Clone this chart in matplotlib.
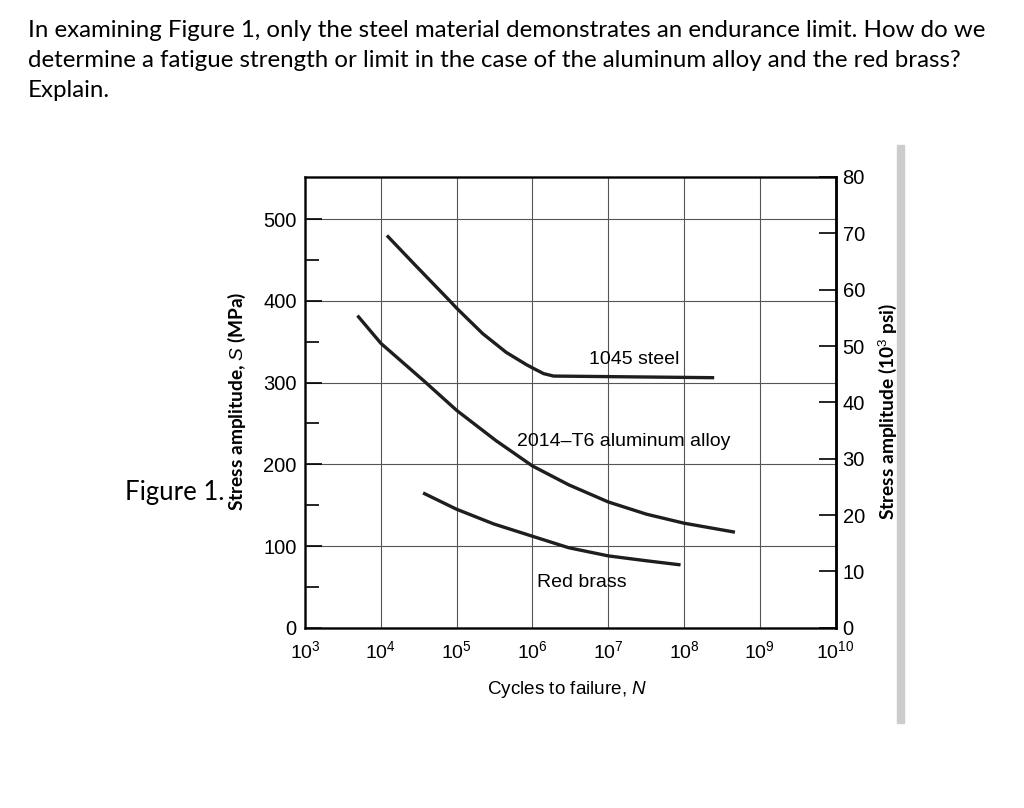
import numpy as np
import matplotlib
matplotlib.use('Agg')
from matplotlib import pyplot as plt
from matplotlib import patches

# cycles to failure and stress amplitude (MPa)
steel_N = [1.2e4, 2.75e4, 8.1e4, 1.0e5, 2.2e5, 4.5e5, 8.3e5, 1.0e6, 1.4e6, 1.9e6, 2.5e8]
steel_S = [480, 445, 400, 391, 360, 337, 322, 318, 311, 308, 306]
alu_N = [4.9e3, 1.0e4, 3.7e4, 1.0e5, 3.3e5, 1.0e6, 3.0e6, 1.0e7, 3.2e7, 1.0e8, 4.7e8]
alu_S = [382, 348, 302, 266, 229, 198, 175, 154, 139, 128, 117]
brass_N = [3.6e4, 1.0e5, 3.1e5, 1.0e6, 3.0e6, 1.0e7, 3.2e7, 9.0e7]
brass_S = [165, 145, 127, 112, 98, 88, 82, 77]

mpa_ticks = [0, 100, 200, 300, 400, 500]
mpa_minor = [50, 150, 250, 350, 450]
ksi_ticks = [0, 10, 20, 30, 40, 50, 60, 70, 80]
decades = [1e3, 1e4, 1e5, 1e6, 1e7, 1e8, 1e9, 1e10]
decade_labels = [r'$\mathregular{10^{%d}}$' % k for k in range(3, 11)]

question = ('In examining Figure 1, only the steel material demonstrates an endurance limit. How do we\n'
            'determine a fatigue strength or limit in the case of the aluminum alloy and the red brass?\n'
            'Explain.')

plt.rcParams['font.family'] = 'Liberation Sans'
plt.rcParams['mathtext.fontset'] = 'custom'
plt.rcParams['mathtext.rm'] = 'Liberation Sans'
plt.rcParams['mathtext.it'] = 'Liberation Sans:italic'

fig = plt.figure(figsize=(10.24, 8.08), dpi=100)
ax = fig.add_axes([0.298, 0.223, 0.518, 0.558])

ink = '#1e1e1e'
ax.plot(steel_N, steel_S, color=ink, lw=2.4, solid_capstyle='butt', solid_joinstyle='round')
ax.plot(alu_N, alu_S, color=ink, lw=2.4, solid_capstyle='butt', solid_joinstyle='round')
ax.plot(brass_N, brass_S, color=ink, lw=2.4, solid_capstyle='butt', solid_joinstyle='round')

ax.set_xscale('log')
ax.set_xlim(1e3, 1e10)
ax.set_ylim(0, 80 * 6.895)
ax.set_xticks(decades)
ax.set_xticklabels(decade_labels)
ax.xaxis.set_minor_locator(matplotlib.ticker.NullLocator())
ax.set_yticks(mpa_ticks)
ax.set_yticks(mpa_minor, minor=True)
ax.grid(True, which='major', color='#555555', lw=0.8)
ax.tick_params(axis='x', length=0, pad=9, labelsize=14)
ax.tick_params(axis='y', which='major', direction='in', length=12, width=1.2, pad=6, labelsize=14.5)
ax.tick_params(axis='y', which='minor', direction='in', length=10, width=1.2)
for s in ax.spines.values():
    s.set_linewidth(1.8)
    s.set_color(ink)

ax2 = ax.twinx()
ax2.set_ylim(0, 80)
ax2.set_yticks(ksi_ticks)
ax2.tick_params(axis='y', direction='in', length=12, width=1.2, pad=5, labelsize=14.5)
ax2.spines['right'].set_linewidth(1.8)

ax.text(2.2e7, 318, '1045 steel', fontsize=14, ha='center', va='bottom')
ax.text(1.6e7, 218, '2014\u2013T6 aluminum alloy', fontsize=14, ha='center', va='bottom')
ax.text(4.5e6, 45, 'Red brass', fontsize=14, ha='center', va='bottom')

ax.set_xlabel('Cycles to failure, $\\mathit{N}$', fontsize=13.6)
ax.xaxis.set_label_coords(0.494, -0.113)
ax.set_ylabel('Stress amplitude, $\\mathit{S}$ (MPa)', fontsize=13.8, family='Lato',
              fontweight='bold')
ax.yaxis.set_label_coords(-0.108, 0.503)
ax2.set_ylabel('Stress amplitude (10$^{3}$ psi)', fontsize=13.8, family='Lato',
               fontweight='bold')
ax2.yaxis.set_label_coords(1.077, 0.48)

fig.text(0.027, 0.975, question, fontsize=17.3, family='Lato', va='top', linespacing=1.52)
fig.text(0.122, 0.391, 'Figure 1.', fontsize=18.5, family='Lato', va='center')

# scan edge bar on the right
fig.patches.append(patches.Rectangle((0.876, 0.105), 0.007, 0.715, transform=fig.transFigure,
                                     color='#cccccc', zorder=-1))

fig.savefig('out.png', dpi=100)
